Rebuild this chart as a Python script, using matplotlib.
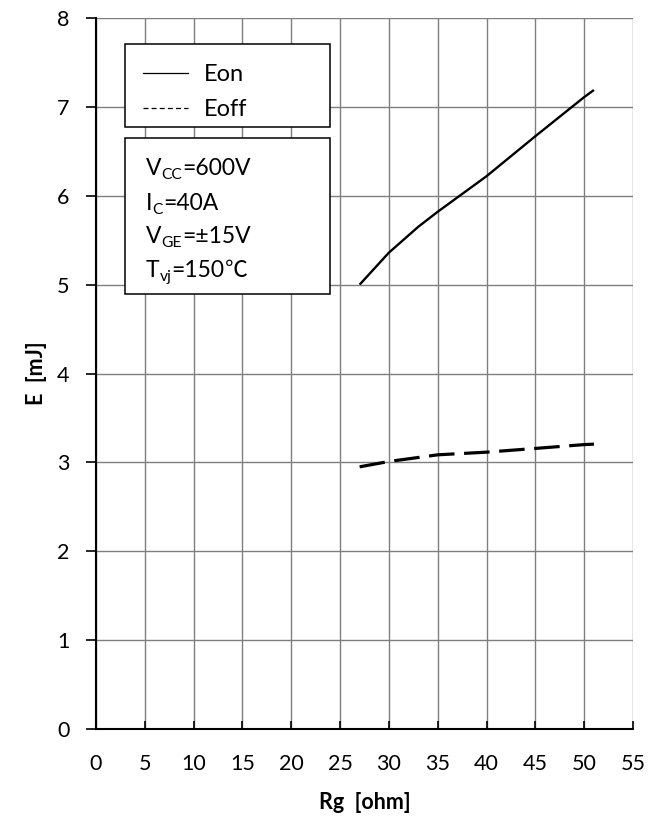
import matplotlib
matplotlib.use("Agg")
import matplotlib.pyplot as plt
from matplotlib.lines import Line2D
from matplotlib.patches import Rectangle

plt.rcParams['font.family'] = ['Lato', 'Noto Sans CJK SC', 'DejaVu Sans']

# Switching energy vs. gate resistance
rg_on = [27, 30, 33, 35, 40, 45, 50, 51]
e_on = [5.00, 5.36, 5.65, 5.82, 6.22, 6.67, 7.11, 7.19]

rg_off = [27, 30, 35, 40, 45, 50, 51]
e_off = [2.95, 3.01, 3.085, 3.115, 3.157, 3.20, 3.205]

x_ticks = list(range(0, 56, 5))
y_ticks = list(range(0, 9))

W, H = 658, 826
fig = plt.figure(figsize=(W / 100, H / 100), dpi=100)
ax = fig.add_axes([96 / W, 1 - 729 / H, (633 - 96) / W, (729 - 18) / H])

ax.set_xlim(0, 55)
ax.set_ylim(0, 8)
ax.set_xticks(x_ticks)
ax.set_yticks(y_ticks)
ax.grid(True, color='#7f7f7f', linewidth=1.0)
ax.set_axisbelow(True)

for s in ('top', 'right'):
    ax.spines[s].set_visible(False)
for s in ('left', 'bottom'):
    ax.spines[s].set_linewidth(1.5)
    ax.spines[s].set_color('black')

ax.tick_params(axis='x', direction='in', length=6, width=1.2, pad=18, labelsize=15.5)
ax.tick_params(axis='y', direction='out', length=7, width=1.2, pad=12, labelsize=15.5)

ax.plot(rg_on, e_on, color='black', linewidth=1.7, solid_capstyle='butt')
ax.plot(rg_off, e_off, color='black', linewidth=2.3, linestyle=(0, (8, 3)),
        dash_capstyle='butt')

ax.set_xlabel('Rg  [ohm]', fontsize=15.5, fontweight='bold', labelpad=13)
ax.set_ylabel('E  [mJ]', fontsize=15.5, fontweight='bold', labelpad=7)

# legend frame and conditions frame
for top, bottom in ((44, 127), (138, 294)):
    ax.add_patch(Rectangle((125 / W, 1 - bottom / H), (330 - 125) / W,
                           (bottom - top) / H, transform=fig.transFigure,
                           facecolor='white', edgecolor='black',
                           linewidth=1.1, zorder=5, clip_on=False))

# legend with thin sample lines
handles = [Line2D([], [], color='black', linewidth=0.9),
           Line2D([], [], color='black', linewidth=0.9, linestyle=(0, (4, 2.5)))]
leg = ax.legend(handles, ['Eon', 'Eoff'], loc='upper left',
                bbox_to_anchor=((125 - 96) / 537, (729 - 46) / 711, (330 - 125) / 537, 0.0),
                mode='expand', fontsize=17, frameon=False,
                handlelength=1.9, handletextpad=0.64, labelspacing=0.57,
                borderpad=0.78, borderaxespad=0.0)
leg.set_zorder(7)

renderer = fig.canvas.get_renderer()

def rich_line(x_px, y_px, parts, size=16.5):
    """Draw a line of text made of (text, is_subscript, family) pieces."""
    x = x_px
    for txt, sub, fam in parts:
        fs = size * 0.68 if sub else size
        dy = -4 if sub else 0
        kw = {'family': fam} if fam else {}
        t = fig.text(x / W, 1 - (y_px - dy) / H, txt, fontsize=fs,
                     va='baseline', ha='left', color='black', zorder=6, **kw)
        w = t.get_window_extent(renderer).width
        x += w

rich_line(146, 175, [('V', False, None), ('CC', True, None), ('=600V', False, None)])
rich_line(146, 210, [('I', False, None), ('C', True, None), ('=40A', False, None)])
rich_line(146, 243, [('V', False, None), ('GE', True, None), ('=±15V', False, None)])
rich_line(146, 277, [('T', False, None), ('vj', True, None), ('=150', False, None),
                     ('℃', False, ['Noto Sans CJK SC', 'DejaVu Sans'])])

fig.savefig('out.png', dpi=100)
